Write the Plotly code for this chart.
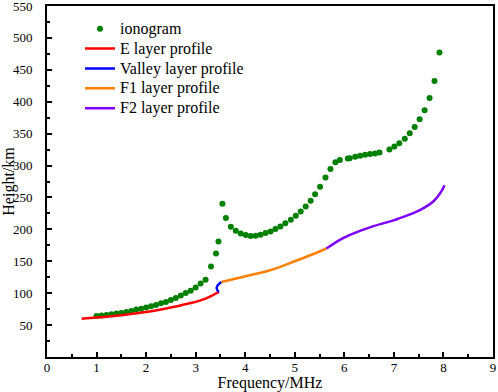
import plotly.graph_objects as go

# Ionogram (virtual height) points
iono_freq = [1.0, 1.1, 1.2, 1.3, 1.4, 1.5, 1.6, 1.7, 1.8, 1.9, 2.0, 2.1, 2.2, 2.3, 2.4, 2.5,
             2.6, 2.7, 2.8, 2.9, 3.0, 3.1, 3.2, 3.31, 3.41, 3.46, 3.54, 3.61, 3.71, 3.81,
             3.91, 4.01, 4.11, 4.21, 4.31, 4.41, 4.51, 4.61, 4.71, 4.81, 4.92, 5.02, 5.12,
             5.22, 5.32, 5.41, 5.51, 5.62, 5.72, 5.82, 5.91, 6.07, 6.11, 6.22, 6.32, 6.42,
             6.52, 6.62, 6.71, 6.91, 7.01, 7.11, 7.22, 7.32, 7.42, 7.52, 7.62, 7.72, 7.82, 7.92]
iono_height = [64.3, 64.9, 65.9, 67.0, 68.0, 69.0, 70.6, 72.2, 74.3, 75.8, 77.4, 79.5, 81.6,
               84.2, 86.3, 89.4, 92.6, 96.2, 100.4, 104.0, 108.8, 115.0, 121.0, 142, 162, 181,
               240, 218, 204, 198, 193.7, 191.1, 189.5, 190, 191.5, 194.2, 196.8, 200.4,
               204.4, 209.6, 214.9, 221.2, 228, 235.8, 244.7, 255.2, 266.6, 281.2, 294.4,
               305.3, 308.5, 311, 311.6, 313.6, 315.2, 316.8, 317.9, 318.8, 320.4, 325.1,
               329.8, 335.1, 341.8, 350.6, 360.5, 372.6, 386.7, 405.9, 432.6, 477.1]

# Layer profiles (true height)
e_freq = [0.70, 1.0, 1.5, 2.0, 2.3, 2.65, 2.9, 3.05, 3.2, 3.32, 3.42, 3.47]
e_height = [60, 61.8, 65.5, 70.5, 74.5, 80, 84.5, 87.5, 91.5, 95.6, 100, 102]

valley_freq = [3.47, 3.435, 3.425, 3.45, 3.52]
valley_height = [102, 105, 109, 113, 117.6]

f1_freq = [3.52, 3.86, 4.5, 5.0, 5.3, 5.64]
f1_height = [117.6, 123.8, 136, 150, 159, 170]

f2_freq = [5.64, 5.92, 6.2, 6.59, 6.99, 7.13, 7.47, 7.8, 7.97, 8.02]
f2_height = [170, 184, 194, 205, 214, 218, 228, 244, 261, 269]

x_ticks = [0, 1, 2, 3, 4, 5, 6, 7, 8, 9]
y_ticks = [50, 100, 150, 200, 250, 300, 350, 400, 450, 500, 550]

FONT = "Liberation Serif"


def nm(s):
    return '<span style="font-size:16px">' + s + '</span>'


fig = go.Figure()
fig.add_trace(go.Scatter(x=iono_freq, y=iono_height, mode="markers", name=nm("ionogram"),
                         marker=dict(color="#008000", size=6)))
fig.add_trace(go.Scatter(x=e_freq, y=e_height, mode="lines", name=nm("E layer profile"),
                         line=dict(color="#FF0000", width=2.5, shape="spline")))
fig.add_trace(go.Scatter(x=valley_freq, y=valley_height, mode="lines", name=nm("Valley layer profile"),
                         line=dict(color="#0000FF", width=2.5, shape="spline")))
fig.add_trace(go.Scatter(x=f1_freq, y=f1_height, mode="lines", name=nm("F1 layer profile"),
                         line=dict(color="#FF8000", width=2.5, shape="spline")))
fig.add_trace(go.Scatter(x=f2_freq, y=f2_height, mode="lines", name=nm("F2 layer profile"),
                         line=dict(color="#8000FF", width=2.5, shape="spline")))

axis_common = dict(
    showgrid=False, zeroline=False, showline=True, linecolor="black", linewidth=2,
    mirror=True, ticks="inside", ticklen=5, tickwidth=1.5, tickcolor="black",
    ticklabeloverflow="allow",
    tickfont=dict(family=FONT, size=13, color="black"),
)

fig.update_layout(
    width=498, height=392,
    margin=dict(l=47, r=5, t=6, b=35),
    plot_bgcolor="white", paper_bgcolor="white",
    font=dict(family=FONT, color="black"),
    showlegend=True,
    legend=dict(x=0.074, y=0.978, xanchor="left", yanchor="top",
                bgcolor="rgba(0,0,0,0)", borderwidth=0,
                font=dict(family=FONT, size=13, color="black")),
    xaxis=dict(range=[0, 9], tickvals=x_ticks, ticklabelstandoff=-3,
               minor=dict(ticks="inside", ticklen=3, dtick=0.5, tickcolor="black", tickwidth=1.5),
               title=dict(text="Frequency/MHz", font=dict(family=FONT, size=16), standoff=0),
               automargin=False, **axis_common),
    yaxis=dict(range=[0, 550], tickvals=y_ticks, ticklabelstandoff=10,
               minor=dict(ticks="inside", ticklen=3, dtick=25, tickcolor="black", tickwidth=1.5),
               title=dict(text="Height/km", font=dict(family=FONT, size=16), standoff=2),
               automargin=False, **axis_common),
)

fig.write_html("out.html", config={"displayModeBar": False},
               post_script="document.body.style.margin='0';document.body.style.overflow='hidden';")
